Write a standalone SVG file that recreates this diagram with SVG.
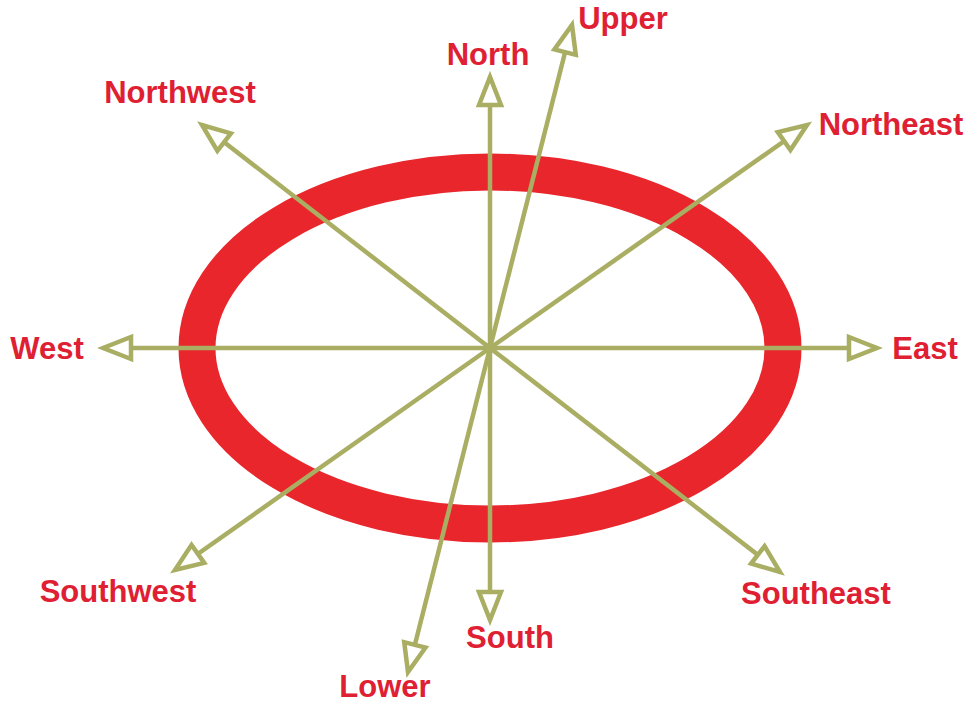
<svg xmlns="http://www.w3.org/2000/svg" width="969" height="705" viewBox="0 0 969 705">
<style>
.lbl{font-family:"Liberation Sans",Arial,sans-serif;font-weight:bold;font-size:31px;fill:#DF2033;text-anchor:middle}
.ax{stroke:#A9AE63;stroke-width:4.5;fill:none;marker-end:url(#ah)}
</style>
<defs>
<marker id="ah" markerUnits="userSpaceOnUse" viewBox="-4 -16 38 32" refX="28" refY="0" markerWidth="38" markerHeight="32" orient="auto">
<path d="M0,-11 L28,0 L0,11 Z" fill="#fff" stroke="#A9AE63" stroke-width="4.5" stroke-linejoin="miter"/>
</marker>
</defs>
<rect width="969" height="705" fill="#fff"/>
<g id="ring">
<ellipse cx="490" cy="348" rx="293" ry="176" fill="none" stroke="#E8262B" stroke-width="37"/>
</g>
<g id="connectors">
<line class="ax" x1="490" y1="348" x2="490" y2="77"/>
<line class="ax" x1="490" y1="348" x2="490" y2="620"/>
<line class="ax" x1="490" y1="348" x2="103" y2="348"/>
<line class="ax" x1="490" y1="348" x2="877" y2="348"/>
<line class="ax" x1="490" y1="348" x2="202" y2="125"/>
<line class="ax" x1="490" y1="348" x2="807" y2="125"/>
<line class="ax" x1="490" y1="348" x2="175" y2="570"/>
<line class="ax" x1="490" y1="348" x2="780" y2="572"/>
<line class="ax" x1="490" y1="348" x2="572" y2="25"/>
<line class="ax" x1="490" y1="348" x2="408" y2="672"/>
<circle cx="490" cy="348" r="5" fill="#A9AE63"/>
</g>
<g id="north"><text class="lbl" x="488" y="65">North</text></g>
<g id="upper"><text class="lbl" x="623" y="29">Upper</text></g>
<g id="northwest"><text class="lbl" x="180" y="103">Northwest</text></g>
<g id="northeast"><text class="lbl" x="891" y="135">Northeast</text></g>
<g id="west"><text class="lbl" x="47" y="359">West</text></g>
<g id="east"><text class="lbl" x="925" y="359">East</text></g>
<g id="southwest"><text class="lbl" x="118" y="602">Southwest</text></g>
<g id="southeast"><text class="lbl" x="816" y="604">Southeast</text></g>
<g id="south"><text class="lbl" x="510" y="648">South</text></g>
<g id="lower"><text class="lbl" x="385" y="697">Lower</text></g>
</svg>
